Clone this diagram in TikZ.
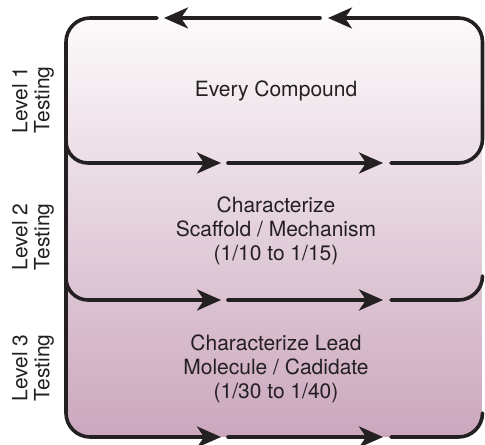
\documentclass[tikz,border=0pt]{standalone}
\usepackage{fontspec}
\setmainfont{TeX Gyre Heros}
\usetikzlibrary{arrows.meta}
\usetikzlibrary{positioning}
\definecolor{frameink}{rgb}{0.14,0.12,0.13}
\definecolor{paletop}{RGB}{252,250,251}
\definecolor{mauve}{RGB}{203,167,189}

\begin{document}
\begin{tikzpicture}[x=0.5pt,y=0.5pt,line cap=round,line join=round,>={Stealth[length=12pt,width=10.5pt,inset=3.5pt]},
  txt/.style={align=center,text=frameink,font=\fontsize{10.5}{12}\selectfont},
  tag/.style={align=center,text=frameink,rotate=90,font=\fontsize{10.5}{11}\selectfont}]
\useasboundingbox (0,0) rectangle (485,444);
\shade[top color=paletop,bottom color=mauve,rounded corners=12pt] (66,7) rectangle (482.5,426);
% borders of the three levels
\begin{scope}[draw=frameink,line width=1.8pt,rounded corners=12pt]
\draw[->] (157,426) -- (66,426) -- (66,7) -- (221,7);
\draw[->] (391,281) -- (482.5,281) -- (482.5,426) -- (328,426);
\draw[->] (320,426) -- (164,426);
\foreach \y in {281,144}
\draw[->,rounded corners=11pt] (66,\y+30) -- (66,\y) -- (221,\y);
\foreach \y in {281,144,7}
\draw[->] (228,\y) -- (383,\y);
\foreach \y in {144,7}
\draw (391,\y) -- (482.5,\y) -- (482.5,\y+24);
\end{scope}
% level contents
\node[txt] (every) at (276,353) {Every Compound};
\node[txt] (scaffold) at (276,213) {Characterize\\Scaffold / Mechanism\\(1/10 to 1/15)};
\node[txt] (lead) at (276,75) {Characterize Lead\\Molecule / Cadidate\\(1/30 to 1/40)};
% level names
\node[tag] (lvl1) at (33,344) {Level 1\\Testing};
\node[tag] (lvl2) at (33,207) {Level 2\\Testing};
\node[tag] (lvl3) at (33,76) {Level 3\\Testing};
\end{tikzpicture}
\end{document}
